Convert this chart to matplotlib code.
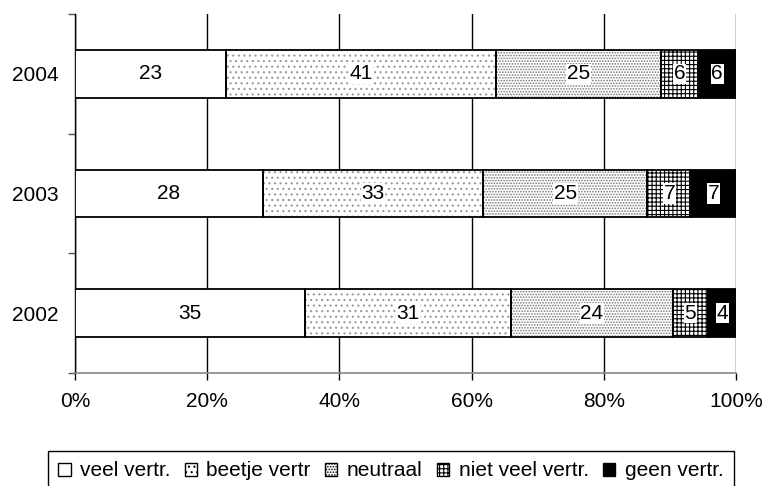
import matplotlib
matplotlib.use("Agg")
import matplotlib.pyplot as plt
from matplotlib.patches import Patch
import numpy as np

plt.rcParams['font.family'] = ['Liberation Sans', 'DejaVu Sans']
plt.rcParams['hatch.linewidth'] = 0.8

years = ["2002", "2003", "2004"]
series_names = ["veel vertr.", "beetje vertr", "neutraal", "niet veel vertr.", "geen vertr."]
veel = [34.8, 28.4, 22.8]
beetje = [31.2, 33.4, 40.9]
neutraal = [24.4, 24.8, 24.9]
niet_veel = [5.4, 6.6, 5.7]
geen = [4.2, 6.8, 5.7]
xtick_labels = ["0%", "20%", "40%", "60%", "80%", "100%"]

series = [veel, beetje, neutraal, niet_veel, geen]
faces = ["white", "white", "white", "white", "black"]
hatches = [None, "...", "......", "++++", None]
hatch_cols = ["black", "#999999", "#777777", "black", "black"]

FS = 15

fig = plt.figure(figsize=(7.65, 4.86), dpi=100)
ax = fig.add_axes([75/765, 1-373/486, 661/765, 359/486])

y = np.arange(len(years))
h = 0.4
left = np.zeros(len(years))
for vals, fc, ht, hc in zip(series, faces, hatches, hatch_cols):
    vals = np.array(vals)
    ax.barh(y, vals, left=left, height=h, color=fc, hatch=ht, edgecolor=hc,
            linewidth=0, zorder=3)
    ax.barh(y, vals, left=left, height=h, fill=False, edgecolor="black",
            linewidth=1.3, zorder=4)
    for yi, l, v in zip(y, left, vals):
        lab = str(int(round(v)))
        kw = {}
        if ht is not None or fc == "black":
            kw = dict(bbox=dict(facecolor="white", edgecolor="none", pad=0.5))
        ax.text(l + v/2, yi, lab, ha="center", va="center", fontsize=FS,
                color="black", zorder=5, **kw)
    left = left + vals

ax.set_xlim(0, 100)
ax.set_ylim(-0.5, 2.5)
ax.set_xticks(np.arange(0, 101, 20))
ax.set_xticklabels(xtick_labels, fontsize=FS)
ax.set_yticks(y)
ax.set_yticklabels(years, fontsize=FS)
ax.set_yticks([-0.5, 0.5, 1.5, 2.5], minor=True)
ax.tick_params(axis="y", which="major", length=0, pad=12)
ax.tick_params(axis="y", which="minor", length=5, width=1, color="#555555")
ax.tick_params(axis="x", which="major", length=5, width=1, pad=9, color="black")
ax.xaxis.grid(True, color="black", linewidth=1, zorder=0)
ax.set_axisbelow(True)
for s in ["top", "right"]:
    ax.spines[s].set_visible(False)
ax.spines["left"].set_color("black")
ax.spines["left"].set_linewidth(1)
ax.spines["bottom"].set_color("#888888")
ax.spines["bottom"].set_linewidth(1.2)

handles = []
for name, fc, ht, hc in zip(series_names, faces, hatches, hatch_cols):
    handles.append(Patch(facecolor=fc, hatch=ht, edgecolor="black", linewidth=1, label=name))
leg = fig.legend(handles=handles, loc="upper left", bbox_to_anchor=(48/765, 1-451/486),
                 ncol=5, fontsize=FS, frameon=True, fancybox=False, framealpha=1,
                 edgecolor="black", handlelength=0.58, handleheight=0.58,
                 handletextpad=0.45, columnspacing=0.7, borderpad=0.5,
                 borderaxespad=0)
leg.get_frame().set_linewidth(1)

fig.savefig("out.png", dpi=100)
